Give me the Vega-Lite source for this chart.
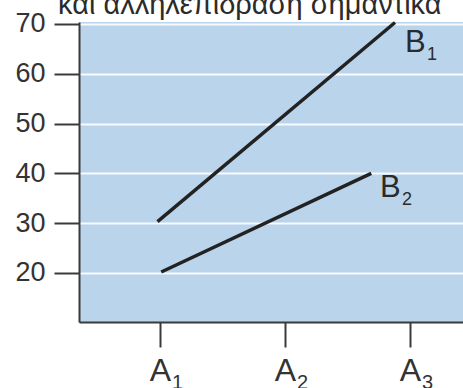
{
  "$schema": "https://vega.github.io/schema/vega-lite/v6.json",
  "width": 384,
  "height": 300,
  "autosize": {"type": "none"},
  "padding": {"left": 79, "top": 22, "right": 0, "bottom": 66},
  "background": "white",
  "title": {
    "text": "και αλληλεπίδραση σημαντικά",
    "anchor": "start",
    "frame": "group",
    "dx": -21,
    "dy": 33,
    "offset": 0,
    "baseline": "alphabetic",
    "font": "Liberation Sans",
    "fontSize": 29,
    "fontWeight": "normal",
    "color": "#2b2b2b"
  },
  "config": {
    "view": {"fill": "#bad4ec", "stroke": null},
    "font": "Liberation Sans"
  },
  "datasets": {
    "lines": [
      {"series": "B1", "a": 0.98, "value": 30.3},
      {"series": "B1", "a": 2.88, "value": 70.3},
      {"series": "B2", "a": 1.01, "value": 20.2},
      {"series": "B2", "a": 2.69, "value": 40}
    ],
    "labels": [
      {"letter": "B", "sub": "1", "a": 2.96, "value": 64.4},
      {"letter": "B", "sub": "2", "a": 2.76, "value": 35.3}
    ],
    "levels": [
      {"a": 1, "sub": "1"},
      {"a": 2, "sub": "2"},
      {"a": 3, "sub": "3"}
    ]
  },
  "encoding": {
    "x": {
      "field": "a",
      "type": "quantitative",
      "scale": {"domain": [0.352, 3.424], "nice": false, "zero": false},
      "axis": {
        "title": null,
        "values": [1, 2, 3],
        "labelExpr": "'A'",
        "grid": false,
        "domainColor": "#3a3a3a",
        "domainWidth": 2,
        "tickColor": "#3a3a3a",
        "tickWidth": 2,
        "tickSize": 25,
        "labelBaseline": "alphabetic",
        "labelPadding": 33,
        "labelFontSize": 32,
        "labelColor": "#333333",
        "labelFont": "Liberation Sans"
      }
    }
  },
  "layer": [
    {
      "data": {"name": "lines"},
      "mark": {"type": "line", "color": "#222222", "strokeWidth": 3.5, "strokeCap": "butt"},
      "encoding": {
        "y": {
          "field": "value",
          "type": "quantitative",
          "scale": {"domain": [10.16, 70.4], "nice": false, "zero": false},
          "axis": {
            "title": null,
            "values": [20, 30, 40, 50, 60, 70],
            "grid": true,
            "gridColor": "#ffffff",
            "gridWidth": 2,
            "gridOpacity": 0.9,
            "domainColor": "#3a3a3a",
            "domainWidth": 2,
            "tickColor": "#3a3a3a",
            "tickWidth": 2,
            "tickSize": 25,
            "labelPadding": 9,
            "labelFontSize": 27,
            "labelColor": "#333333",
            "labelFont": "Liberation Sans"
          }
        },
        "detail": {"field": "series", "type": "nominal"}
      }
    },
    {
      "data": {"name": "labels"},
      "mark": {
        "type": "text",
        "align": "left",
        "baseline": "alphabetic",
        "fontSize": 31,
        "color": "#2b2b2b",
        "font": "Liberation Sans"
      },
      "encoding": {
        "y": {"field": "value", "type": "quantitative"},
        "text": {"field": "letter", "type": "nominal"}
      }
    },
    {
      "data": {"name": "labels"},
      "mark": {
        "type": "text",
        "align": "left",
        "baseline": "alphabetic",
        "dx": 22,
        "dy": 8,
        "fontSize": 18,
        "color": "#2b2b2b",
        "font": "Liberation Sans"
      },
      "encoding": {
        "y": {"field": "value", "type": "quantitative"},
        "text": {"field": "sub", "type": "nominal"}
      }
    },
    {
      "data": {"name": "levels"},
      "mark": {
        "type": "text",
        "align": "left",
        "baseline": "alphabetic",
        "dx": 12,
        "dy": 67,
        "fontSize": 20,
        "color": "#333333",
        "font": "Liberation Sans"
      },
      "encoding": {
        "y": {"datum": 10.16},
        "text": {"field": "sub", "type": "nominal"}
      }
    }
  ]
}
